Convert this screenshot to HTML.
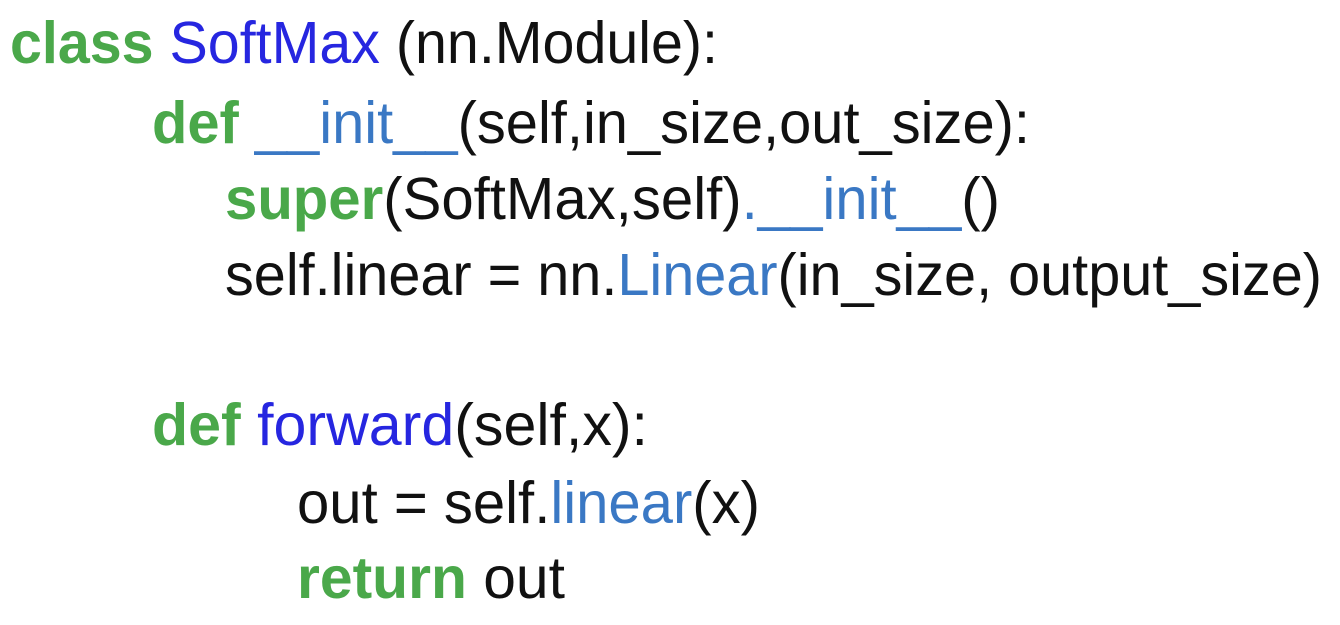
<!DOCTYPE html>
<html><head><meta charset="utf-8"><style>
html,body{margin:0;padding:0;background:#fff;width:1340px;height:625px;overflow:hidden}
svg text{font-family:"Liberation Sans",sans-serif;font-size:59px;fill:#111}
.g{fill:#4aa84a;font-weight:bold}
.b{fill:#2626e0}
.l{fill:#3a78c4}
</style></head><body>
<svg width="1340" height="625" xmlns="http://www.w3.org/2000/svg">
<text x="10" y="63" textLength="708" lengthAdjust="spacingAndGlyphs"><tspan class="g">class</tspan> <tspan class="b">SoftMax</tspan> (nn.Module):</text>
<text x="152" y="143" textLength="878" lengthAdjust="spacingAndGlyphs"><tspan class="g">def</tspan> <tspan class="l">__init__</tspan>(self,in_size,out_size):</text>
<text x="225" y="219" textLength="775" lengthAdjust="spacingAndGlyphs"><tspan class="g">super</tspan>(SoftMax,self)<tspan class="l">.__init__</tspan>()</text>
<text x="225" y="295" textLength="1097" lengthAdjust="spacingAndGlyphs">self.linear = nn.<tspan class="l">Linear</tspan>(in_size, output_size)</text>
<text x="152" y="445" textLength="496" lengthAdjust="spacingAndGlyphs"><tspan class="g">def</tspan> <tspan class="b">forward</tspan>(self,x):</text>
<text x="297" y="523" textLength="463" lengthAdjust="spacingAndGlyphs">out = self.<tspan class="l">linear</tspan>(x)</text>
<text x="297" y="598" textLength="268" lengthAdjust="spacingAndGlyphs"><tspan class="g">return</tspan> out</text>
</svg>
</body></html>
